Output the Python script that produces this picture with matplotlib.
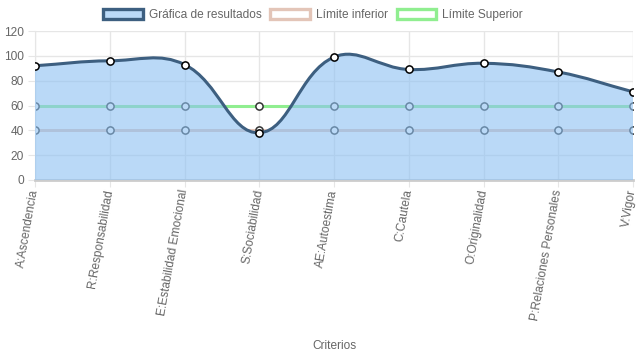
import numpy as np
import matplotlib.pyplot as plt
from matplotlib.path import Path
from matplotlib.patches import PathPatch, Patch

plt.rcParams['font.family'] = ['Liberation Sans', 'DejaVu Sans']

criterios = ["A:Ascendencia", "R:Responsabilidad", "E:Estabilidad Emocional",
             "S:Sociabilidad", "AE:Autoestima", "C:Cautela", "O:Originalidad",
             "P:Relaciones Personales", "V:Vigor"]
resultados = [92, 96, 93, 38, 99, 89, 94, 87, 71]
limite_inferior = [40] * 9
limite_superior = [60] * 9

# colores
c_res_line = "#3d5f80"
c_res_fill = (141/255, 193/255, 243/255, 0.6)
c_inf = "#e3c5b8"
c_sup = "#90ee90"
c_grid = "#e6e6e6"
c_text = "#666666"

fig = plt.figure(figsize=(6.37, 3.59), dpi=100)
ax = fig.add_axes([35/637, 1 - 180/359, 598/637, 149/359])

x = np.arange(len(criterios))

# escala de pixeles para la curva (como chart.js, tension 0.4)
sx, sy = 74.75, 149/120


def bezier_path(xs, ys, t=0.4):
    pts = np.column_stack([np.asarray(xs, float) * sx, np.asarray(ys, float) * sy])
    n = len(pts)
    cp_prev = pts.copy()
    cp_next = pts.copy()
    for i in range(n):
        prev = pts[i - 1] if i > 0 else pts[i]
        nxt = pts[i + 1] if i < n - 1 else pts[i]
        d01 = np.hypot(*(pts[i] - prev))
        d12 = np.hypot(*(nxt - pts[i]))
        tot = d01 + d12
        s01 = d01 / tot if tot else 0
        s12 = d12 / tot if tot else 0
        cp_prev[i] = pts[i] - t * s01 * (nxt - prev)
        cp_next[i] = pts[i] + t * s12 * (nxt - prev)
    verts = [pts[0]]
    codes = [Path.MOVETO]
    for i in range(n - 1):
        verts += [cp_next[i], cp_prev[i + 1], pts[i + 1]]
        codes += [Path.CURVE4] * 3
    verts = np.array(verts) / [sx, sy]
    return verts, codes


# lineas de limites (debajo del relleno)
ax.plot(x, limite_inferior, color=c_inf, lw=2.2, zorder=2,
        marker="o", ms=5.2, mfc="white", mec="#333333", mew=1.1)
ax.plot(x, limite_superior, color=c_sup, lw=2.2, zorder=2,
        marker="o", ms=5.2, mfc="white", mec="#333333", mew=1.1)

verts, codes = bezier_path(x, resultados)
fill_verts = np.vstack([verts, [[x[-1], 0], [x[0], 0], [x[0], 0]]])
fill_codes = codes + [Path.LINETO, Path.LINETO, Path.CLOSEPOLY]
ax.add_patch(PathPatch(Path(fill_verts, fill_codes), facecolor=c_res_fill,
                       edgecolor="none", zorder=3))
ax.add_patch(PathPatch(Path(verts, codes), facecolor="none",
                       edgecolor=c_res_line, lw=2.2, zorder=4))
ax.plot(x, resultados, ls="none", marker="o", ms=5.2, mfc="white",
        mec="black", mew=1.1, zorder=5)

ax.set_xlim(0, len(criterios) - 1)
ax.set_ylim(0, 120)
ax.set_yticks(range(0, 121, 20))
ax.set_xticks(x)
ax.set_xticklabels(criterios, rotation=80, ha="right", va="center",
                   rotation_mode="anchor")
ax.grid(True, color=c_grid, lw=1, zorder=0)
ax.set_axisbelow(True)
for s in ["top", "right"]:
    ax.spines[s].set_visible(False)
ax.spines["left"].set_color(c_grid)
ax.spines["bottom"].set_color("#cccccc")
ax.spines["bottom"].set_linewidth(2)
ax.tick_params(axis="both", colors=c_text, labelsize=8.6, length=5,
               color=c_grid, pad=3)
ax.tick_params(axis="x", pad=2)
for lbl in ax.get_xticklabels():
    lbl.set_color(c_text)

fig.text(334/637, 1 - 346/359, "Criterios", ha="center", va="center",
         color=c_text, fontsize=8.6)

handles = [Patch(facecolor=(187/255, 218/255, 248/255), edgecolor=c_res_line, lw=2.4),
           Patch(facecolor="white", edgecolor=c_inf, lw=2.4),
           Patch(facecolor="white", edgecolor=c_sup, lw=2.4)]
fig.legend(handles, ["Gráfica de resultados", "Límite inferior", "Límite Superior"],
           loc="center", bbox_to_anchor=(313/637, 1 - 15/359), ncol=3, frameon=False,
           fontsize=8.6, handlelength=3.3, handleheight=1.0, handletextpad=0.5,
           columnspacing=0.75, labelcolor=c_text)

fig.savefig("out.png", dpi=100)
